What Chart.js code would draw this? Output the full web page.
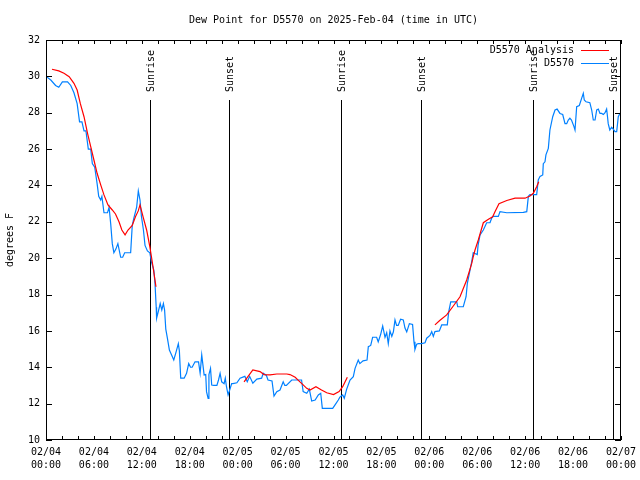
<!DOCTYPE html>
<html>
<head>
<meta charset="utf-8">
<title>Dew Point for D5570</title>
<script src="https://cdn.jsdelivr.net/npm/chart.js@4.4.1/dist/chart.umd.min.js"></script>
<style>
  html, body { margin: 0; padding: 0; background: #fff; }
  #chart { display: block; }
</style>
</head>
<body>
<canvas id="chart" width="640" height="480"></canvas>
<script>
const titleText = 'Dew Point for D5570 on 2025-Feb-04 (time in UTC)';
const yTitle = 'degrees F';

// hours since 02/04 00:00 UTC
const dewHours = [
  0.0, 0.6, 1.2, 1.6, 2.05, 2.7, 3.1, 3.5, 3.9, 4.2, 4.5, 4.76, 5.0, 5.3, 5.6, 5.8, 6.1, 6.4, 6.6, 6.85,
  7.0, 7.26, 7.7, 7.9, 8.1, 8.3, 8.5, 8.75, 9.0, 9.35, 9.6, 9.85, 10.6, 10.8, 11.0, 11.35, 11.56, 11.77, 11.95, 12.2,
  12.4, 12.7, 13.0, 13.2, 13.5, 13.65, 13.8, 13.85, 14.06, 14.3, 14.5, 14.7, 14.85, 15.0, 15.2, 15.45, 15.7, 16.0, 16.3, 16.57,
  16.7, 16.87, 17.3, 17.6, 17.87, 18.1, 18.3, 18.66, 19.1, 19.3, 19.5, 19.8, 20.0, 20.1, 20.3, 20.4, 20.6, 20.75, 21.0, 21.4,
  21.6, 21.8, 22.0, 22.3, 22.45, 22.6, 22.8, 23.0, 23.25, 23.4, 23.9, 24.3, 24.9, 25.2, 25.5, 25.9, 26.4, 27.0, 27.2, 27.6,
  27.8, 28.3, 28.55, 28.9, 29.3, 29.7, 29.9, 30.1, 30.77, 32.0, 32.2, 32.65, 32.97, 33.27, 33.7, 34.1, 34.4, 34.6, 35.9, 36.3,
  36.6, 36.8, 37.15, 37.35, 37.65, 38.07, 38.48, 38.7, 39.1, 39.3, 39.7, 40.2, 40.36, 40.66, 40.9, 41.4, 41.6, 41.9, 42.16, 42.45,
  42.66, 42.86, 43.07, 43.3, 43.5, 43.7, 43.9, 44.1, 44.4, 44.74, 44.95, 45.17, 45.5, 45.9, 46.08, 46.2, 46.42, 46.62, 47.04, 47.46,
  47.67, 48.08, 48.3, 48.5, 48.7, 49.25, 49.55, 50.25, 50.43, 50.68, 51.43, 51.55, 52.25, 52.6, 52.76, 53.1, 53.3, 53.5, 53.7, 54.0,
  54.1, 54.35, 54.76, 55.18, 55.6, 55.8, 56.0, 56.64, 56.85, 57.7, 59.77, 60.2, 60.4, 60.6, 61.44, 61.64, 61.86, 62.2, 62.27, 62.48,
  62.6, 62.9, 63.1, 63.45, 63.74, 64.0, 64.36, 64.7, 64.99, 65.2, 65.4, 65.6, 65.8, 66.1, 66.24, 66.45, 66.78, 67.08, 67.28, 67.4,
  67.62, 68.1, 68.33, 68.53, 68.75, 68.96, 69.16, 69.37, 69.58, 69.79, 70.0, 70.2, 70.28, 70.4, 70.6, 70.83, 71.03, 71.25, 71.46, 71.66,
  71.87, 72.0
];
const dewValues = [
  30.0, 29.8, 29.5, 29.4, 29.7, 29.7, 29.5, 29.1, 28.5, 27.5, 27.5, 27.0, 27.0, 26.0, 26.0, 25.2, 25.0, 24.1, 23.4, 23.2,
  23.4, 22.5, 22.5, 22.8, 21.9, 20.8, 20.3, 20.5, 20.8, 20.05, 20.05, 20.3, 20.3, 21.8, 22.2, 22.8, 23.7, 23.2, 22.3, 21.55,
  20.7, 20.4, 20.3, 19.8, 19.35, 18.6, 17.3, 16.7, 17.06, 17.5, 17.15, 17.5, 17.15, 16.1, 15.6, 14.95, 14.7, 14.4, 14.86, 15.3,
  14.9, 13.4, 13.4, 13.67, 14.2, 14.0, 14.0, 14.3, 14.3, 13.67, 14.68, 13.58, 13.6, 12.66, 12.29, 13.6, 13.94, 13.02, 13.0, 13.0,
  13.3, 13.67, 13.2, 13.1, 13.4, 12.93, 12.48, 12.75, 13.1, 13.1, 13.15, 13.4, 13.5, 13.2, 13.5, 13.12, 13.35, 13.4, 13.67, 13.55,
  13.3, 13.25, 12.42, 12.66, 12.75, 13.2, 13.0, 13.0, 13.3, 13.3, 12.66, 12.57, 12.8, 12.14, 12.2, 12.48, 12.57, 11.74, 11.74, 12.0,
  12.2, 12.36, 12.48, 12.3, 12.8, 13.3, 13.48, 13.94, 14.4, 14.2, 14.35, 14.4, 15.13, 15.2, 15.65, 15.65, 15.4, 15.8, 16.27, 15.65,
  15.9, 15.3, 16.0, 15.7, 15.95, 16.6, 16.3, 16.3, 16.64, 16.6, 16.16, 15.95, 16.4, 16.35, 15.4, 14.98, 15.27, 15.3, 15.3, 15.35,
  15.6, 15.75, 15.96, 15.7, 15.96, 16.0, 16.33, 16.33, 17.06, 17.6, 17.6, 17.33, 17.33, 17.88, 18.62, 19.35, 19.8, 20.3, 20.26, 20.2,
  20.7, 21.28, 21.55, 21.95, 21.95, 22.2, 22.3, 22.3, 22.56, 22.5, 22.52, 22.56, 23.4, 23.5, 23.5, 24.3, 24.5, 24.58, 25.2, 25.3,
  25.68, 26.04, 27.05, 27.78, 28.15, 28.2, 27.96, 27.9, 27.4, 27.4, 27.6, 27.7, 27.6, 27.25, 27.05, 28.33, 28.4, 28.8, 29.07, 28.7,
  28.6, 28.55, 28.15, 27.6, 27.6, 28.15, 28.2, 27.96, 27.96, 27.9, 28.0, 28.2, 27.9, 27.4, 27.05, 27.2, 27.1, 26.96, 26.96, 27.78,
  27.96, 28.0
];

// analysis series, null marks a gap
const analysisHours = [
  0.75, 1.6, 2.25, 2.9, 3.5, 3.9, 4.3, 4.76, 5.2, 5.6, 6.0, 6.4, 6.85, 7.26, 7.76, 8.3, 8.7, 9.14, 9.5, 9.9,
  10.27, 10.8, 11.2, 11.55, 11.77, 12.2, 12.6, 13.0, 13.4, 13.77, 19.0,
  24.8, 25.9, 26.8, 27.3, 28.05, 28.9, 30.15, 30.55, 31.2, 31.8, 32.2, 32.65, 33.06, 33.8, 34.5, 35.15, 36.0, 36.7, 37.15,
  37.73, 43.0,
  48.7, 49.3, 50.17, 51.0, 51.84, 52.68, 53.3, 53.5, 53.72, 54.13, 54.76, 55.4, 55.93, 56.22, 56.72, 57.7, 58.73, 59.98, 60.6,
  61.02, 61.44, 61.7
];
const analysisValues = [
  30.39, 30.3, 30.17, 29.98, 29.62, 29.25, 28.5, 27.78, 26.87, 26.13, 25.4, 24.67, 24.03, 23.48, 22.93, 22.65, 22.43, 22.0, 21.55, 21.28,
  21.55, 21.8, 22.28, 22.6, 22.93, 22.2, 21.55, 20.63, 19.53, 18.43, null,
  13.2, 13.85, 13.76, 13.6, 13.58, 13.63, 13.63, 13.6, 13.45, 13.2, 13.03, 12.84, 12.75, 12.93, 12.75, 12.6, 12.5, 12.66, 12.93,
  13.45, null,
  16.33, 16.57, 16.88, 17.37, 17.88, 18.8, 19.7, 20.08, 20.45, 21.0, 21.95, 22.14, 22.28, 22.56, 23.0, 23.17, 23.3, 23.3, 23.42,
  23.57, 23.93, 24.2
];

const sunHours = [13.02, 22.95, 36.98, 47.0, 61.02, 71.04];
const sunLabels = ['Sunrise', 'Sunset', 'Sunrise', 'Sunset', 'Sunrise', 'Sunset'];

const xTickDays = ['02/04', '02/04', '02/04', '02/04', '02/05', '02/05', '02/05', '02/05', '02/06', '02/06', '02/06', '02/06', '02/07'];
const xTickTimes = ['00:00', '06:00', '12:00', '18:00', '00:00', '06:00', '12:00', '18:00', '00:00', '06:00', '12:00', '18:00', '00:00'];

const FONT_FAMILY = "'DejaVu Sans Mono', monospace";
const FONT = `10px ${FONT_FAMILY}`;

const toPoints = (xs, ys) => xs.map((x, i) => ({ x, y: ys[i] }));

Chart.defaults.font.family = FONT_FAMILY;
Chart.defaults.font.size = 10;
Chart.defaults.color = '#000';

// sunrise/sunset markers, frame with inward ticks, legend inside the plot
const gnuplotLook = {
  id: 'gnuplotLook',
  beforeDatasetsDraw(chart) {
    const { ctx, chartArea: a, scales: { x } } = chart;
    ctx.save();
    ctx.strokeStyle = '#000';
    ctx.fillStyle = '#000';
    ctx.lineWidth = 1;
    ctx.font = FONT;
    sunHours.forEach((h, i) => {
      const px = Math.round(x.getPixelForValue(h)) + 0.5;
      ctx.beginPath();
      ctx.moveTo(px, a.top + 60);
      ctx.lineTo(px, a.bottom);
      ctx.stroke();
      ctx.save();
      ctx.translate(px + 1, a.top + 52);
      ctx.rotate(-Math.PI / 2);
      ctx.textAlign = 'left';
      ctx.textBaseline = 'middle';
      ctx.fillText(sunLabels[i], 0, 0);
      ctx.restore();
    });
    ctx.restore();
  },
  afterDraw(chart) {
    const { ctx, chartArea: a, scales: { x, y } } = chart;
    ctx.save();
    ctx.strokeStyle = '#000';
    ctx.lineWidth = 1;
    ctx.strokeRect(a.left + 0.5, a.top + 0.5, a.right - a.left - 1, a.bottom - a.top - 1);

    ctx.beginPath();
    x.ticks.forEach((t) => {
      const px = Math.round(x.getPixelForValue(t.value)) + 0.5;
      ctx.moveTo(px, a.bottom);
      ctx.lineTo(px, a.bottom - 4);
      ctx.moveTo(px, a.top);
      ctx.lineTo(px, a.top + 4);
    });
    y.ticks.forEach((t) => {
      const py = Math.round(y.getPixelForValue(t.value)) + 0.5;
      ctx.moveTo(a.left, py);
      ctx.lineTo(a.left + 6, py);
      ctx.moveTo(a.right, py);
      ctx.lineTo(a.right - 6, py);
    });
    ctx.stroke();

    ctx.font = FONT;
    ctx.textAlign = 'right';
    ctx.textBaseline = 'middle';
    chart.data.datasets.forEach((ds, i) => {
      const ly = a.top + 10 + i * 13;
      ctx.fillStyle = '#000';
      ctx.fillText(ds.label, a.right - 47, ly);
      ctx.strokeStyle = ds.borderColor;
      ctx.beginPath();
      ctx.moveTo(a.right - 40, ly + 0.5);
      ctx.lineTo(a.right - 12, ly + 0.5);
      ctx.stroke();
    });
    ctx.restore();
  },
};

new Chart(document.getElementById('chart'), {
  type: 'line',
  data: {
    datasets: [
      {
        label: 'D5570 Analysis',
        data: toPoints(analysisHours, analysisValues),
        borderColor: '#ff0000',
        borderWidth: 1.2,
        pointRadius: 0,
        spanGaps: false,
        tension: 0,
      },
      {
        label: 'D5570',
        data: toPoints(dewHours, dewValues),
        borderColor: '#0080ff',
        borderWidth: 1.2,
        pointRadius: 0,
        tension: 0,
      },
    ],
  },
  options: {
    responsive: false,
    animation: false,
    layout: { padding: { top: 0, left: 0, right: 19, bottom: 0 } },
    plugins: {
      legend: { display: false },
      tooltip: { enabled: false },
      title: {
        display: true,
        text: titleText,
        fullSize: false,
        font: { size: 10, weight: 'normal', lineHeight: 1.2 },
        padding: { top: 14, bottom: 14 },
      },
    },
    scales: {
      x: {
        type: 'linear',
        min: 0,
        max: 72,
        grid: { display: false, drawTicks: false },
        border: { display: false },
        afterFit: (scale) => {
          scale.height = 40;
          scale.paddingLeft = 0;
          scale.paddingRight = 0;
        },
        ticks: {
          stepSize: 2,
          autoSkip: false,
          maxRotation: 0,
          padding: 6,
          font: { size: 10, lineHeight: 1.3 },
          callback: (v) => (v % 6 === 0 ? [xTickDays[v / 6], xTickTimes[v / 6]] : ''),
        },
      },
      y: {
        min: 10,
        max: 32,
        grid: { display: false, drawTicks: false },
        border: { display: false },
        afterFit: (scale) => {
          scale.width = 46;
          scale.paddingTop = 0;
          scale.paddingBottom = 0;
        },
        ticks: { stepSize: 2, padding: 6, font: { size: 10 } },
        title: {
          display: true,
          text: yTitle,
          font: { size: 10, lineHeight: 1.2 },
          padding: { top: 4, bottom: 0 },
        },
      },
    },
  },
  plugins: [gnuplotLook],
});
</script>
</body>
</html>
